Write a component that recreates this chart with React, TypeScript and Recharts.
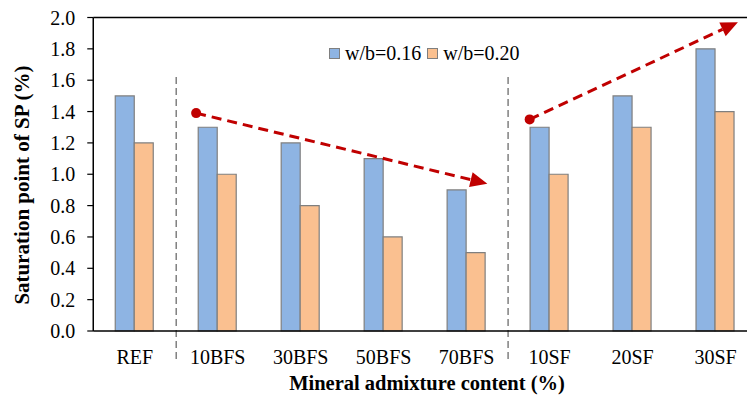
import { BarChart, Bar, XAxis, YAxis, ReferenceLine, Legend } from 'recharts';

const FONT = "'Liberation Serif', 'Times New Roman', serif";

const categories = ['REF', '10BFS', '30BFS', '50BFS', '70BFS', '10SF', '20SF', '30SF'];
const wb016 = [1.5, 1.3, 1.2, 1.1, 0.9, 1.3, 1.5, 1.8];
const wb020 = [1.2, 1.0, 0.8, 0.6, 0.5, 1.0, 1.3, 1.4];

const majorTicks = [0, 0.2, 0.4, 0.6, 0.8, 1.0, 1.2, 1.4, 1.6, 1.8, 2.0];
// minor ticks every 0.04 (inside the axis)
const minorTicks = Array.from({ length: 51 }, (_, i) => +(i * 0.04).toFixed(2));

// group separators and trend arrows, x in category-index units (0 = REF centre)
const separators = [0.5, 4.5];
const trendArrows = [
  [{ x: 0.74, y: 1.39 }, { x: 4.25, y: 0.94 }],
  [{ x: 4.76, y: 1.35 }, { x: 7.27, y: 1.97 }],
];

const SERIES = [
  { key: 'wb016', name: 'w/b=0.16', color: '#8EB4E3' },
  { key: 'wb020', name: 'w/b=0.20', color: '#FAC090' },
];

const data = categories.map((c, i) => ({ name: c, wb016: wb016[i], wb020: wb020[i] }));

const CHART_W = 757;
const PLOT_LEFT = 93.25;
const HALF_BAND = (CHART_W - PLOT_LEFT) / categories.length / 2;

function Arrow(props: any) {
  const { x1, y1, x2, y2 } = props;
  const dx = x2 - x1;
  const dy = y2 - y1;
  const len = Math.sqrt(dx * dx + dy * dy);
  const ux = dx / len;
  const uy = dy / len;
  const headLen = 17;
  const headW = 7.5;
  const bx = x2 - ux * headLen;
  const by = y2 - uy * headLen;
  const pts = `${x2},${y2} ${bx - uy * headW},${by + ux * headW} ${bx + uy * headW},${by - ux * headW}`;
  return (
    <g>
      <line x1={x1} y1={y1} x2={bx} y2={by} stroke="#C00000" strokeWidth={3} strokeDasharray="10 6" />
      <circle cx={x1} cy={y1} r={5} fill="#C00000" />
      <polygon points={pts} fill="#C00000" />
    </g>
  );
}

function LegendBox() {
  return (
    <div style={{ display: 'flex', alignItems: 'center', fontFamily: FONT, fontSize: 20, color: '#000' }}>
      {SERIES.map((s) => (
        <span key={s.key} style={{ display: 'flex', alignItems: 'center', marginRight: 6 }}>
          <span
            style={{
              width: 9,
              height: 9,
              background: s.color,
              border: '1px solid #7f7f7f',
              marginRight: 5,
            }}
          />
          {s.name}
        </span>
      ))}
    </div>
  );
}

export default function App() {
  return (
    <div
      style={{
        position: 'absolute',
        left: 0,
        top: 0,
        width: 747,
        height: 396,
        overflow: 'hidden',
        background: '#fff',
      }}
    >
      <BarChart
        width={CHART_W}
        height={396}
        data={data}
        margin={{ top: 17.5, right: 0, left: 0, bottom: 35 }}
        barGap={0}
        barSize={19}
      >
        <XAxis
          dataKey="name"
          height={30}
          tickLine={false}
          axisLine={{ stroke: '#000', strokeWidth: 1.5 }}
          tickMargin={13}
          tick={{ fontFamily: FONT, fontSize: 20, fill: '#000' }}
          interval={0}
          label={{
            content: (p: any) => {
              const vb = p.viewBox;
              return (
                <text
                  x={427}
                  y={vb.y + vb.height + 29}
                  textAnchor="middle"
                  fontFamily={FONT}
                  fontSize={20.5}
                  fontWeight="bold"
                  fill="#000"
                >
                  Mineral admixture content (%)
                </text>
              );
            },
          }}
        />
        <XAxis
          xAxisId="n"
          type="number"
          domain={[0, categories.length - 1]}
          padding={{ left: HALF_BAND, right: HALF_BAND }}
          allowDataOverflow
          hide
        />
        <YAxis
          width={PLOT_LEFT}
          domain={[0, 2]}
          ticks={majorTicks}
          interval={0}
          tickSize={6}
          tickMargin={12}
          tickFormatter={(v: number) => v.toFixed(1)}
          tickLine={{ stroke: '#000', strokeWidth: 1.2 }}
          axisLine={{ stroke: '#000', strokeWidth: 1.5 }}
          tick={{ fontFamily: FONT, fontSize: 20, fill: '#000' }}
          label={{
            content: () => {
              const cx = 22;
              const cy = 185;
              return (
                <text
                  x={cx}
                  y={cy}
                  transform={`rotate(-90, ${cx}, ${cy})`}
                  textAnchor="middle"
                  dominantBaseline="central"
                  fontFamily={FONT}
                  fontSize={21}
                  fontWeight="bold"
                  fill="#000"
                >
                  Saturation point of SP (%)
                </text>
              );
            },
          }}
        />
        <YAxis
          yAxisId="minor"
          mirror
          domain={[0, 2]}
          ticks={minorTicks}
          interval={0}
          tickSize={5}
          tick={false}
          axisLine={false}
          tickLine={{ stroke: '#000', strokeWidth: 1 }}
          allowDataOverflow
        />
        <ReferenceLine y={2} stroke="#000" strokeWidth={1.5} ifOverflow="visible" />
        {separators.map((s) => (
          <ReferenceLine
            key={s}
            xAxisId="n"
            segment={[
              { x: s, y: 1.62 },
              { x: s, y: -0.2 },
            ]}
            stroke="#808080"
            strokeWidth={1.5}
            strokeDasharray="7 4"
            ifOverflow="visible"
          />
        ))}
        <Legend
          layout="horizontal"
          verticalAlign="middle"
          align="center"
          wrapperStyle={{ top: 42, left: 329, width: 'auto' }}
          content={() => <LegendBox />}
        />
        {SERIES.map((s) => (
          <Bar
            key={s.key}
            dataKey={s.key}
            name={s.name}
            fill={s.color}
            stroke="#7f7f7f"
            strokeWidth={1.2}
            isAnimationActive={false}
          />
        ))}
        {trendArrows.map((seg, i) => (
          <ReferenceLine key={i} xAxisId="n" segment={seg} ifOverflow="visible" shape={Arrow} />
        ))}
      </BarChart>
    </div>
  );
}
